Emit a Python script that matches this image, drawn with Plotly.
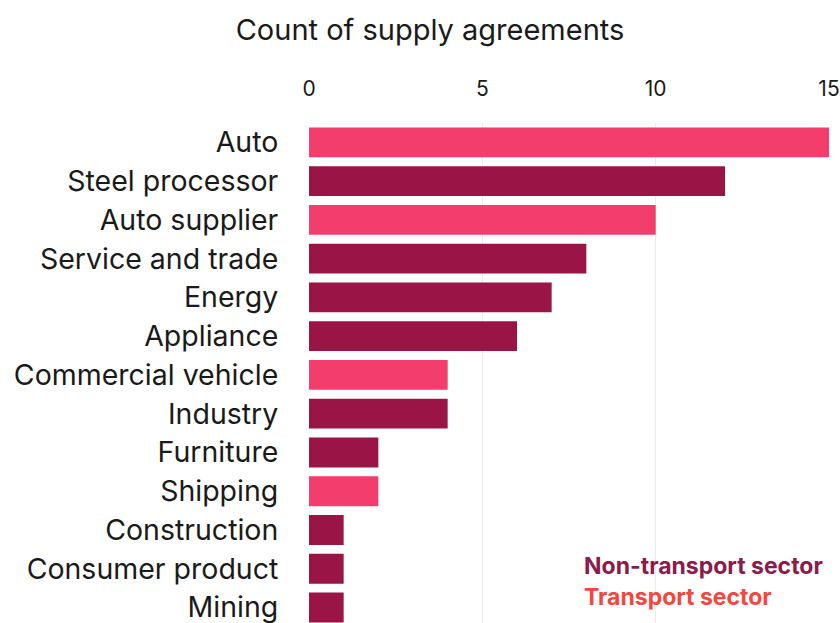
import plotly.graph_objects as go

# Supply agreements by buyer sector
sectors = [
    "Auto", "Steel processor", "Auto supplier", "Service and trade", "Energy",
    "Appliance", "Commercial vehicle", "Industry", "Furniture", "Shipping",
    "Construction", "Consumer product", "Mining",
]
counts = [15, 12, 10, 8, 7, 6, 4, 4, 2, 2, 1, 1, 1]
is_transport = [True, False, True, False, False, False, True, False, False, True,
                False, False, False]

group_names = ["Non-transport sector", "Transport sector"]
bar_colors = {"Non-transport sector": "#9A1546", "Transport sector": "#F23D6D"}
label_colors = {"Non-transport sector": "#8C1A4C", "Transport sector": "#F2473F"}
x_ticks = [0, 5, 10, 15]

FONT = "Inter"
W, H = 840, 623

groups = [group_names[1] if t else group_names[0] for t in is_transport]

fig = go.Figure(
    go.Bar(
        x=counts,
        y=sectors,
        orientation="h",
        marker=dict(color=[bar_colors[g] for g in groups], line=dict(width=0)),
        hoverinfo="x+y",
    )
)

fig.update_layout(
    width=W,
    height=H,
    margin=dict(l=309, r=11, t=123, b=0),
    paper_bgcolor="white",
    plot_bgcolor="white",
    bargap=0.23,
    showlegend=False,
    font=dict(family=FONT, color="#1a1a1a"),
    title=dict(
        text="Count of supply agreements",
        x=430 / W,
        xanchor="center",
        xref="container",
        y=1 - 30 / H,
        yanchor="middle",
        yref="container",
        font=dict(family=FONT, size=29, color="#1a1a1a"),
    ),
)

fig.update_xaxes(
    side="top",
    range=[0, 15],
    tickvals=x_ticks,
    ticktext=[str(v) for v in x_ticks],
    tickfont=dict(family=FONT, size=21, color="#1a1a1a"),
    ticklabeloverflow="allow",
    ticks="outside",
    ticklen=18,
    tickcolor="rgba(0,0,0,0)",
    showgrid=True,
    gridcolor="#EBEBEB",
    gridwidth=1,
    zeroline=False,
    showline=False,
    fixedrange=True,
)

fig.update_yaxes(
    categoryorder="array",
    categoryarray=sectors,
    range=[12.4, -0.5],
    tickfont=dict(family=FONT, size=28.5, color="#1a1a1a"),
    ticks="outside",
    ticklen=24,
    tickcolor="rgba(0,0,0,0)",
    showgrid=False,
    zeroline=False,
    showline=False,
    fixedrange=True,
)

# Colour key written as coloured text in the lower right
for i, name in enumerate(group_names):
    fig.add_annotation(
        text=f"<b>{name}</b>",
        xref="paper",
        yref="paper",
        x=(582 - 309) / (W - 309 - 11),
        y=(H - (566 + 31 * i)) / (H - 123),
        xanchor="left",
        yanchor="middle",
        showarrow=False,
        font=dict(family=FONT, size=23, color=label_colors[name]),
    )

fig.write_html("out.html")
